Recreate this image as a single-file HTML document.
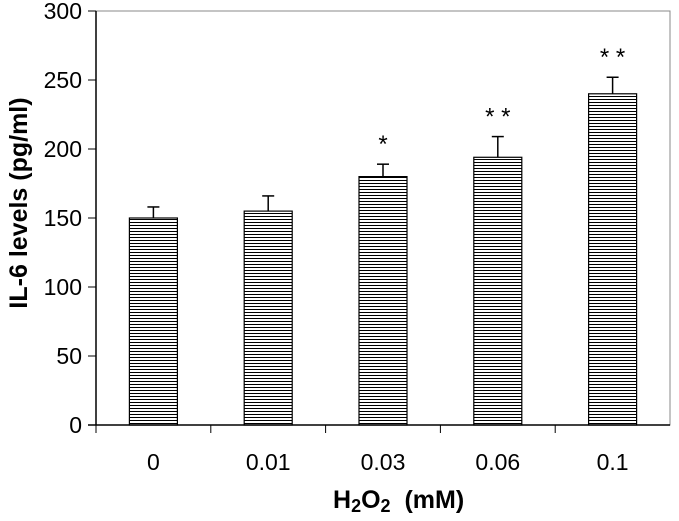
<!DOCTYPE html>
<html><head><meta charset="utf-8"><style>
body{margin:0;background:#fff;}
svg{display:block;font-family:"Liberation Sans",Arial,sans-serif;}
</style></head><body>
<svg id="chart" width="679" height="521" viewBox="0 0 679 521">
<defs>
<pattern id="hstripe" width="4" height="3" patternUnits="userSpaceOnUse">
<rect width="4" height="3" fill="#fff"/><rect y="0" width="4" height="1" fill="#000"/>
</pattern>
</defs>
<rect x="96" y="11" width="574" height="414" fill="#fff" stroke="#888" stroke-width="1"/>
<g id="marks"></g>
<text x="27" y="203" transform="rotate(-90 27 203)" text-anchor="middle" style="font-size:25px;font-weight:bold">IL-6 levels (pg/ml)</text>
<text x="333" y="508" style="font-size:25px;font-weight:bold">H<tspan style="font-size:18px" dy="4">2</tspan><tspan dy="-4">O</tspan><tspan style="font-size:18px" dy="4">2</tspan><tspan dy="-4" xml:space="preserve">  (mM)</tspan></text>
</svg>
<script>
const categories=["0","0.01","0.03","0.06","0.1"];
const values=[150,155,180,194,240];
const errors=[8,11,9,15,12];
const stars=["","","*","* *","* *"];
const yTicks=[0,50,100,150,200,250,300];
const L=96,R=670,T=11,B=425,yMax=300;
const y=v=>B-(v/yMax)*(B-T);
const band=(R-L)/categories.length;
const xc=i=>L+band*(i+0.5);
const NS="http://www.w3.org/2000/svg";
const g=document.getElementById('marks');
function mk(tag,attrs){const e=document.createElementNS(NS,tag);for(const k in attrs)e.setAttribute(k,attrs[k]);g.appendChild(e);return e;}
yTicks.forEach(t=>{
 const l=mk('line',{x1:L-8,x2:L,y1:y(t),y2:y(t),stroke:'#000'});
 
 
 const tx=mk('text',{x:L-14,y:y(t)+8,'text-anchor':'end',style:'font-size:23px'});
 tx.textContent=t;
 
 
});
categories.forEach((c,i)=>{
 const bx=xc(i)-24;
 const bar=mk('rect',{x:bx,y:y(values[i]),width:48,height:B-y(values[i]),fill:'url(#hstripe)',stroke:'#000','stroke-width':1.2});
 
 
 const top=y(values[i]+errors[i]);
 const el=mk('line',{x1:xc(i),x2:xc(i),y1:y(values[i]),y2:top,stroke:'#000','stroke-width':1.5});
 
 
 const cap=mk('line',{x1:xc(i)-6,x2:xc(i)+6,y1:top,y2:top,stroke:'#000','stroke-width':1.5});
 
 
 if(stars[i]){
  const s=mk('text',{x:xc(i),y:top-12,'text-anchor':'middle',style:'font-size:24px'});
  s.textContent=stars[i];
  
  
 }
 const tk=mk('line',{x1:L+band*i,x2:L+band*i,y1:B,y2:B+8,stroke:'#000'});
 
 
 const lb=mk('text',{x:xc(i),y:470,'text-anchor':'middle',style:'font-size:23px'});
 lb.textContent=c;
 
 
});
const ax=mk('line',{x1:L,x2:L,y1:T,y2:B,stroke:'#000','stroke-width':1.5});


const xa=mk('line',{x1:L-8,x2:R,y1:B,y2:B,stroke:'#000','stroke-width':1.5});


</script>
</body></html>
